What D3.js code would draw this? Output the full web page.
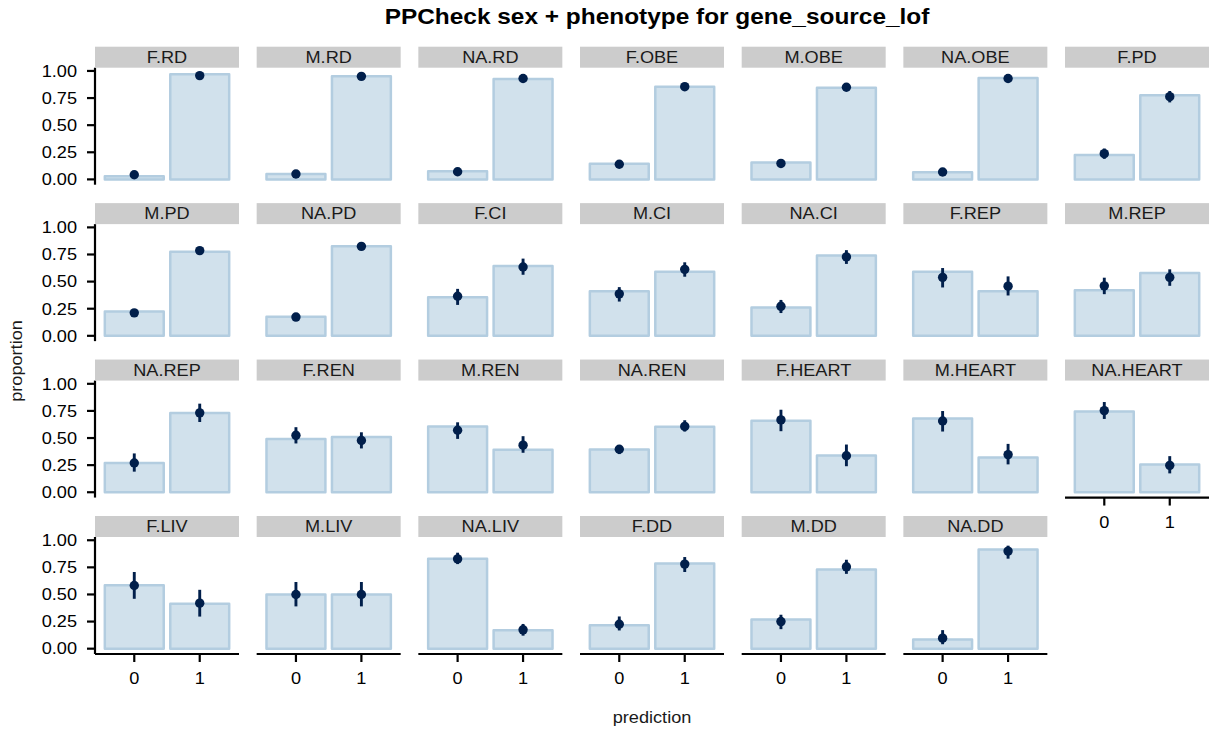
<!DOCTYPE html>
<html>
<head>
<meta charset="utf-8">
<script src="https://cdn.jsdelivr.net/npm/d3@7"></script>
<style>
  html, body { margin: 0; padding: 0; background: #ffffff; }
  svg { display: block; }
  text { font-family: "Liberation Sans", Arial, Helvetica, sans-serif; }
</style>
</head>
<body>
<svg id="chart" width="1216" height="732"></svg>
<script>
// Facet labels (sex.phenotype), in facet_wrap order
const panels = [
  "F.RD", "M.RD", "NA.RD", "F.OBE", "M.OBE", "NA.OBE", "F.PD",
  "M.PD", "NA.PD", "F.CI", "M.CI", "NA.CI", "F.REP", "M.REP",
  "NA.REP", "F.REN", "M.REN", "NA.REN", "F.HEART", "M.HEART", "NA.HEART",
  "F.LIV", "M.LIV", "NA.LIV", "F.DD", "M.DD", "NA.DD"
];

// Prediction categories on the x axis
const categories = [0, 1];

// Observed proportions for prediction 0 and 1 (bars)
const observed = [
  [0.03, 0.97], [0.05, 0.95], [0.075, 0.925], [0.145, 0.855], [0.155, 0.845], [0.065, 0.935], [0.225, 0.775],
  [0.225, 0.775], [0.175, 0.825], [0.355, 0.645], [0.41, 0.59], [0.26, 0.74], [0.59, 0.41], [0.42, 0.58],
  [0.27, 0.73], [0.49, 0.51], [0.607, 0.393], [0.395, 0.605], [0.66, 0.34], [0.68, 0.32], [0.745, 0.255],
  [0.585, 0.415], [0.5, 0.5], [0.83, 0.17], [0.215, 0.785], [0.27, 0.73], [0.085, 0.915]
];

// Posterior predictive medians (points)
const medians = [
  [0.043, 0.957], [0.05, 0.95], [0.07, 0.93], [0.14, 0.855], [0.147, 0.85], [0.068, 0.93], [0.237, 0.763],
  [0.212, 0.786], [0.173, 0.825], [0.365, 0.635], [0.387, 0.613], [0.272, 0.728], [0.539, 0.458], [0.461, 0.539],
  [0.27, 0.732], [0.525, 0.477], [0.572, 0.434], [0.397, 0.607], [0.667, 0.337], [0.657, 0.347], [0.753, 0.248],
  [0.583, 0.42], [0.5, 0.5], [0.828, 0.174], [0.225, 0.78], [0.25, 0.755], [0.097, 0.9]
];

// Lower and upper bounds of the predictive intervals
const lower = [
  [0.025, 0.935], [0.03, 0.93], [0.05, 0.905], [0.115, 0.83], [0.12, 0.825], [0.045, 0.905], [0.19, 0.71],
  [0.185, 0.76], [0.15, 0.8], [0.285, 0.563], [0.316, 0.545], [0.21, 0.663], [0.446, 0.372], [0.384, 0.461],
  [0.19, 0.648], [0.45, 0.404], [0.492, 0.364], [0.352, 0.56], [0.563, 0.24], [0.56, 0.257], [0.676, 0.174],
  [0.46, 0.296], [0.39, 0.39], [0.78, 0.12], [0.168, 0.707], [0.18, 0.69], [0.041, 0.83]
];
const upper = [
  [0.065, 0.975], [0.07, 0.97], [0.095, 0.95], [0.17, 0.88], [0.175, 0.875], [0.095, 0.955], [0.285, 0.815],
  [0.24, 0.815], [0.2, 0.85], [0.433, 0.712], [0.449, 0.678], [0.331, 0.79], [0.625, 0.548], [0.536, 0.613],
  [0.358, 0.817], [0.6, 0.553], [0.645, 0.517], [0.434, 0.664], [0.761, 0.44], [0.749, 0.446], [0.832, 0.333],
  [0.707, 0.543], [0.615, 0.615], [0.885, 0.228], [0.297, 0.845], [0.313, 0.82], [0.171, 0.95]
];

// Y-axis tick values and labels
const yTicks = [0, 0.25, 0.5, 0.75, 1];
const yTickLabels = ["0.00", "0.25", "0.50", "0.75", "1.00"];

const titleText = "PPCheck sex + phenotype for gene_source_lof";
const xTitle = "prediction";
const yTitle = "proportion";

// ---- layout ----
const nCol = 7;
const left = 95, colPitch = 161.67, panelW = 144;
const top0 = 46.7, rowPitch = 156.43, stripH = 21, panelH = 117;
const tickLen = 8;
const S = 1.1;      // horizontal glyph stretch
const fs = 16.5;    // body text size

const col = {
  fill: "#d1e1ec", edge: "#b3cde0", dark: "#011f4b", strip: "#cccccc"
};

const svg = d3.select("#chart");

function label(g, x, y, str, o = {}) {
  const sx = o.stretch || S;
  const t = g.append("text")
    .attr("transform", `translate(${x},${y}) rotate(${o.rotate || 0}) scale(${sx},1)`)
    .attr("text-anchor", o.anchor || "middle")
    .attr("font-size", o.size || fs)
    .attr("fill", o.color || "#000")
    .text(str);
  if (o.bold) t.attr("font-weight", "bold");
  return t;
}

const xBase = d3.scaleLinear().domain([-0.6, 1.6]).range([0, panelW]);
const yBase = d3.scaleLinear().domain([-0.049, 1.03]).range([panelH, 0]);

panels.forEach((name, i) => {
  const r = Math.floor(i / nCol), c = i % nCol;
  const x0 = left + c * colPitch;
  const sTop = top0 + r * rowPitch;
  const pTop = sTop + stripH;
  const g = svg.append("g").attr("transform", `translate(${x0},${pTop})`);

  // strip
  svg.append("rect").attr("x", x0).attr("y", sTop).attr("width", panelW).attr("height", stripH)
    .attr("fill", col.strip);
  label(svg, x0 + panelW / 2, sTop + stripH / 2 + 5.8, name, { color: "#1a1a1a" });

  // bars
  g.selectAll("rect.bar").data(categories).join("rect").attr("class", "bar")
    .attr("x", d => xBase(d - 0.45))
    .attr("width", d => xBase(d + 0.45) - xBase(d - 0.45))
    .attr("y", (d, k) => yBase(observed[i][k]))
    .attr("height", (d, k) => yBase(0) - yBase(observed[i][k]))
    .attr("fill", col.fill).attr("stroke", col.edge).attr("stroke-width", 2.5)
    .attr("stroke-linejoin", "round");

  // intervals
  g.selectAll("line.iv").data(categories).join("line").attr("class", "iv")
    .attr("x1", d => xBase(d)).attr("x2", d => xBase(d))
    .attr("y1", (d, k) => yBase(lower[i][k])).attr("y2", (d, k) => yBase(upper[i][k]))
    .attr("stroke", col.dark).attr("stroke-width", 2.9);

  // medians
  g.selectAll("circle.pt").data(categories).join("circle").attr("class", "pt")
    .attr("cx", d => xBase(d)).attr("cy", (d, k) => yBase(medians[i][k]))
    .attr("r", 4.7).attr("fill", col.dark);

  // y axis on first column
  if (c === 0) {
    g.append("line").attr("x1", 0).attr("x2", 0).attr("y1", 0).attr("y2", panelH)
      .attr("stroke", "#000").attr("stroke-width", 2.2);
    yTicks.forEach((v, k) => {
      g.append("line").attr("x1", -tickLen).attr("x2", 0).attr("y1", yBase(v)).attr("y2", yBase(v))
        .attr("stroke", "#000").attr("stroke-width", 2.2);
      label(g, -tickLen - 10, yBase(v) + 5.8, yTickLabels[k], { anchor: "end" });
    });
  }

  // x axis on the lowest panel of each column
  if (i + nCol >= panels.length) {
    g.append("line").attr("x1", 0).attr("x2", panelW).attr("y1", panelH).attr("y2", panelH)
      .attr("stroke", "#000").attr("stroke-width", 2.2);
    categories.forEach(v => {
      g.append("line").attr("x1", xBase(v)).attr("x2", xBase(v)).attr("y1", panelH).attr("y2", panelH + tickLen)
        .attr("stroke", "#000").attr("stroke-width", 2.2);
      label(g, xBase(v), panelH + tickLen + 22, String(v));
    });
  }
});

// titles
const plotMid = left + ((nCol - 1) * colPitch + panelW) / 2;
label(svg, plotMid + 5, 24, titleText, { size: 22, bold: true, stretch: 1.11 });
label(svg, plotMid, 723, xTitle, { color: "#1a1a1a" });
label(svg, 22, 361, yTitle, { rotate: -90, color: "#1a1a1a" });
</script>
</body>
</html>
